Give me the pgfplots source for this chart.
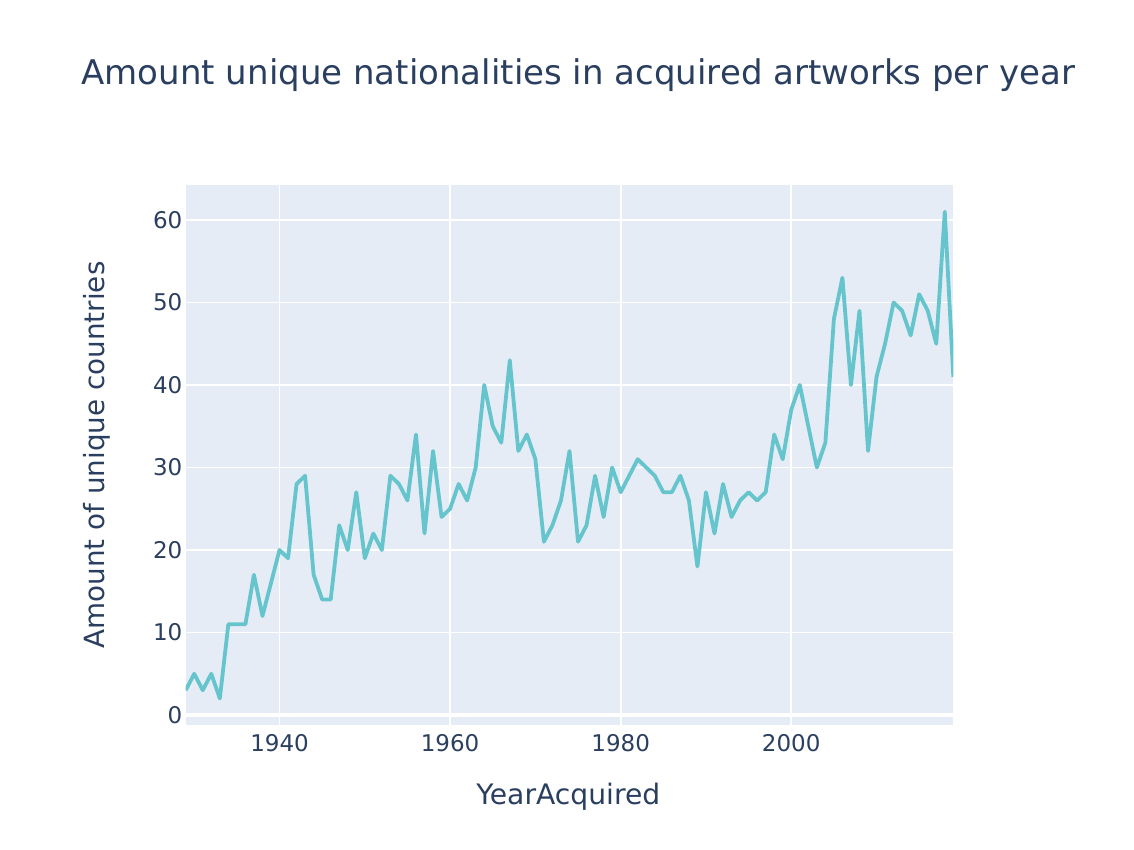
\documentclass[border=0pt]{standalone}
\usepackage{pgfplots}
\pgfplotsset{compat=1.18}
\usepackage{fontspec}
\setmainfont{DejaVu Sans}
\definecolor{plotbg}{HTML}{E5ECF6}
\definecolor{txt}{HTML}{2A3F5F}
\definecolor{linec}{RGB}{102,197,204}
\begin{document}
\begin{tikzpicture}
\path[use as bounding box] (0,0) rectangle (567pt,425pt);
\begin{axis}[
  at={(92.85pt,62.5pt)}, anchor=south west,
  scale only axis, width=383.8pt, height=270pt,
  xmin=1929, xmax=2019, ymin=-1.21, ymax=64.24,
  axis background/.style={fill=plotbg},
  axis line style={draw=none},
  major tick length=0pt,
  xtick={1940,1960,1980,2000},
  ytick={0,10,20,30,40,50,60},
  grid=major,
  major grid style={white, line width=0.95pt},
  extra y ticks={0}, extra y tick labels={},
  extra y tick style={grid=major, major grid style={white, line width=1.9pt}},
  /pgf/number format/assume math mode=true,
  /pgf/number format/1000 sep={},
  ticklabel style={font=\fontsize{11.5}{13}\selectfont, text=txt},
  xticklabel style={anchor=base, yshift=-13.5pt},
  yticklabel style={anchor=east, inner sep=0pt, xshift=-1.5pt},
]
\addplot[color=linec, line width=1.9pt, line join=round, mark=none] coordinates {
(1929,3)(1930,5)(1931,3)(1932,5)(1933,2)(1934,11)(1935,11)(1936,11)(1937,17)(1938,12)
(1939,16)(1940,20)(1941,19)(1942,28)(1943,29)(1944,17)(1945,14)(1946,14)(1947,23)(1948,20)
(1949,27)(1950,19)(1951,22)(1952,20)(1953,29)(1954,28)(1955,26)(1956,34)(1957,22)(1958,32)
(1959,24)(1960,25)(1961,28)(1962,26)(1963,30)(1964,40)(1965,35)(1966,33)(1967,43)(1968,32)
(1969,34)(1970,31)(1971,21)(1972,23)(1973,26)(1974,32)(1975,21)(1976,23)(1977,29)(1978,24)
(1979,30)(1980,27)(1981,29)(1982,31)(1983,30)(1984,29)(1985,27)(1986,27)(1987,29)(1988,26)
(1989,18)(1990,27)(1991,22)(1992,28)(1993,24)(1994,26)(1995,27)(1996,26)(1997,27)(1998,34)
(1999,31)(2000,37)(2001,40)(2002,35)(2003,30)(2004,33)(2005,48)(2006,53)(2007,40)(2008,49)
(2009,32)(2010,41)(2011,45)(2012,50)(2013,49)(2014,46)(2015,51)(2016,49)(2017,45)(2018,61)
(2019,41)
};
\end{axis}
\node[anchor=base, text=txt, font=\fontsize{17}{20}\selectfont, inner sep=0pt] at (289.25pt,382.5pt) {Amount unique nationalities in acquired artworks per year};
\node[anchor=base, text=txt, font=\fontsize{14.1}{17}\selectfont, inner sep=0pt] at (284.15pt,22.5pt) {YearAcquired};
\node[anchor=base, rotate=90, text=txt, font=\fontsize{13.9}{17}\selectfont, inner sep=0pt] at (52pt,197.5pt) {Amount of unique countries};
\end{tikzpicture}
\end{document}
